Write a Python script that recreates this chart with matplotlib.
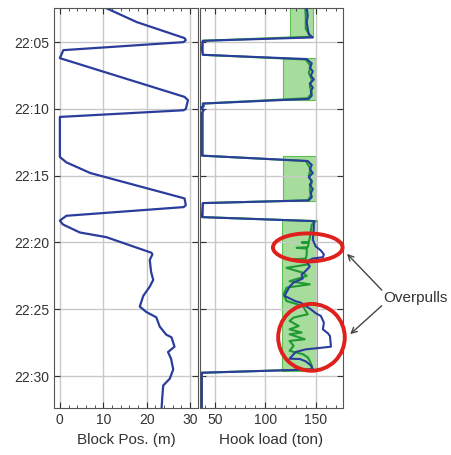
import numpy as np
import matplotlib.pyplot as plt
from matplotlib.patches import Ellipse
from matplotlib.ticker import MultipleLocator

plt.rcParams['font.family'] = ['Liberation Sans', 'DejaVu Sans']

# time in minutes after 22:00
block_t = [2.0, 2.46, 3.5, 4.7, 4.85, 5.0, 5.6, 6.2, 9.1, 9.35, 10.0, 10.1, 10.6, 13.6, 14.0,
           14.8, 16.7, 17.2, 17.35, 18.0, 18.36, 18.65, 19.25, 19.6, 20.77, 20.9, 21.3, 22.2,
           22.8, 23.3, 24.0, 24.8, 25.2, 25.6, 26.3, 26.9, 27.1, 27.8, 28.2, 28.7, 29.5,
           30.2, 30.7, 31.5, 32.5]
block_pos = [9.5, 10.7, 17.7, 28.7, 29.0, 28.5, 0.8, 0.0, 28.7, 29.5, 29.0, 28.5, 0.0, 0.0, 1.5,
             7.0, 28.7, 29.0, 28.5, 1.5, 0.0, 0.7, 4.6, 10.7, 21.1, 21.3, 20.7, 21.0,
             21.5, 20.7, 19.2, 18.4, 19.9, 22.2, 23.0, 24.5, 25.7, 26.4, 24.9, 25.6, 26.1,
             25.3, 23.8, 23.6, 23.4]

hook_t = [2.0, 2.46, 3.0, 3.5, 4.0, 4.4, 4.6, 4.65, 4.9, 5.5, 5.95, 6.27, 6.6, 6.9, 7.2, 7.5,
          7.8, 8.1, 8.4, 8.7, 9.0, 9.25, 9.6, 9.8, 9.9, 10.1, 10.3, 11.0, 13.5, 13.9, 14.2,
          14.5, 14.8, 15.1, 15.4, 15.7, 16.0, 16.3, 16.6, 16.85, 17.05, 18.1, 18.4, 18.9,
          19.8, 20.3, 20.6, 20.9, 21.1, 21.2, 21.4, 21.8, 22.2, 22.4, 22.7, 23.0, 23.3,
          24.0, 24.4, 24.5, 24.8, 25.0, 25.3, 25.5, 26.0, 26.5, 26.8, 27.0, 27.8, 27.9,
          28.0, 28.2, 28.7, 28.72, 28.9, 29.2, 29.5, 29.75, 32.5]
hook_blue = [141, 141, 142, 141, 142, 143, 146, 147, 38, 37, 38, 141, 146, 144, 147, 145,
             148, 144, 147, 145, 146, 143, 38, 39, 35, 39, 37, 37, 37, 142, 146,
             144, 147, 143, 146, 144, 147, 145, 146, 143, 38, 37, 148, 148,
             147, 150, 155, 158, 157, 147, 141, 144, 139, 136, 137, 128, 124,
             119, 130, 135, 141, 145, 150, 155, 158, 157, 162, 164, 165, 153,
             140, 130, 124, 134, 140, 145, 147, 37, 37]

green_t = [2.0, 3.0, 4.0, 4.6, 4.9, 5.95, 6.3, 6.8, 7.3, 7.8, 8.3, 8.8, 9.2, 9.6, 13.5, 13.9,
           14.5, 15.0, 15.5, 16.0, 16.5, 16.85, 17.05, 18.1, 18.4, 18.66, 19.65, 19.95,
           20.0, 20.05, 20.35, 20.4, 20.45, 20.9, 21.2, 21.27, 21.32, 21.64, 21.9, 22.26,
           22.5, 22.9, 23.13, 23.38, 23.88, 24.38, 24.75, 25.37, 25.62, 25.87, 26.25, 26.5,
           26.74, 26.87, 27.24, 27.37, 27.74, 28.11, 28.36, 28.6, 28.86, 29.23, 29.5,
           29.75, 32.5]
hook_green = [139, 140, 140, 145, 38, 38, 140, 145, 143, 146, 144, 146, 142, 38, 38, 140,
              145, 143, 146, 144, 145, 142, 38, 38, 150, 146, 144, 143,
              136, 143, 142, 131, 141, 141, 140, 128, 140, 142, 121, 137,
              141, 124, 144, 121, 118, 121, 137, 142, 128, 124, 133, 124,
              136, 124, 139, 124, 128, 124, 137, 142, 144, 146, 147,
              37, 37]

band_start = [2.0, 6.2, 13.5, 18.3]
band_end = [4.6, 9.3, 16.9, 29.6]
band_lo = [124, 117, 117, 116]
band_hi = [147, 150, 150, 151]

# overpull ellipses: (centre load, centre time, width, height)
ell_load = [142, 145.7]
ell_t = [20.37, 27.1]
ell_w = [69, 66]
ell_h = [2.1, 5.0]

ytick_vals = [5, 10, 15, 20, 25, 30]
ytick_labels = ['22:05', '22:10', '22:15', '22:20', '22:25', '22:30']

fig = plt.figure(figsize=(4.52, 4.55), dpi=100)
ax1 = fig.add_axes([0.119, 0.103, 0.319, 0.879])
ax2 = fig.add_axes([0.442, 0.103, 0.317, 0.879])

blue = '#2b3d9c'
green = '#1f9a33'

ax1.plot(block_pos, block_t, color=blue, lw=1.6)
ax1.set_xlim(-1.4, 31.8)
ax1.set_xticks([0, 10, 20, 30])
ax1.xaxis.set_minor_locator(MultipleLocator(2))

for s, e, lo, hi in zip(band_start, band_end, band_lo, band_hi):
    ax2.fill_betweenx([s, e], lo, hi, color='#a6dc9c', edgecolor='#5fbf55', lw=0.8, zorder=1)
ax2.plot(hook_green, green_t, color=green, lw=1.5, zorder=2)
ax2.plot(hook_blue, hook_t, color=blue, lw=1.5, zorder=3)
ax2.set_xlim(35, 177)
ax2.set_xticks([50, 100, 150])
ax2.xaxis.set_minor_locator(MultipleLocator(10))

for cx, cy, w, h in zip(ell_load, ell_t, ell_w, ell_h):
    ax2.add_patch(Ellipse((cx, cy), w, h, fill=False, edgecolor='#e0201c', lw=2.8,
                          clip_on=False, zorder=5))

for ax in (ax1, ax2):
    ax.set_ylim(32.4, 2.46)
    ax.set_yticks(ytick_vals)
    ax.grid(True, color='#c9c9c9', lw=1)
    ax.tick_params(which='both', direction='in', top=True, right=True,
                   labelsize=10, colors='#333333', length=4)
    ax.tick_params(which='minor', length=2)
    for sp in ax.spines.values():
        sp.set_color('#555555')
ax1.set_yticklabels(ytick_labels)
ax2.set_yticklabels([])

ax1.set_xlabel('Block Pos. (m)', fontsize=11, color='#333333')
ax2.set_xlabel('Hook load (ton)', fontsize=11, color='#333333')

fig.text(0.849, 0.345, 'Overpulls', fontsize=11, color='#333333', va='center', ha='left')
ax2.annotate('', xy=(179, 20.7), xycoords='data', xytext=(0.849, 0.358),
             textcoords='figure fraction', annotation_clip=False,
             arrowprops=dict(arrowstyle='->', color='#444444', lw=1))
ax2.annotate('', xy=(182, 27.0), xycoords='data', xytext=(0.849, 0.332),
             textcoords='figure fraction', annotation_clip=False,
             arrowprops=dict(arrowstyle='->', color='#444444', lw=1))

fig.savefig('out.png', dpi=100)
